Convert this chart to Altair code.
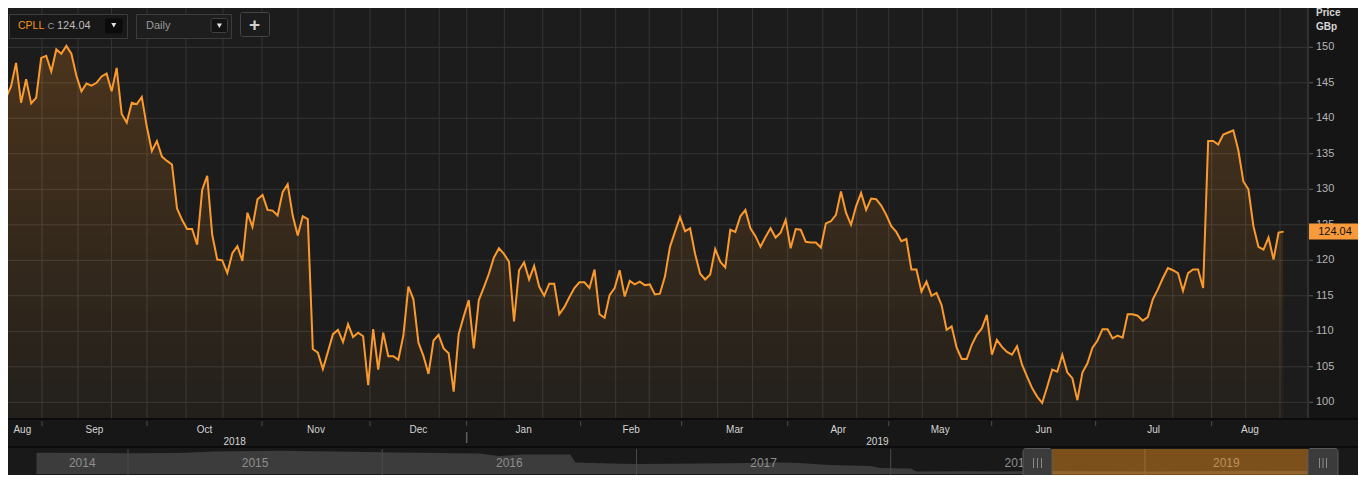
import altair as alt
import pandas as pd

# ---------------- data ----------------
ticker = "CPLL"
interval = "Daily"
currency = "GBp"

# daily closes, one per trading day (Aug 2018 -> Aug 2019)
prices = [
    142.9, 144.5, 147.8, 142.2, 145.5, 142.1, 142.9, 148.5, 148.8, 146.6, 149.7, 149.1, 150.2, 149.1, 146.0,
    143.8, 144.9, 144.6, 145.0, 145.9, 146.3, 143.8, 147.1,
    140.6, 139.4, 142.2, 142.0, 143.0, 138.8, 135.4, 136.8, 134.6, 134.0, 133.5, 127.3, 125.7, 124.4, 124.4,
    122.2, 129.9, 131.9, 123.6, 120.1, 120.0, 118.2, 121.0, 122.0, 119.9, 126.7, 124.7, 128.6, 129.2, 127.1,
    127.0, 126.3, 129.6, 130.7, 126.3, 123.5, 126.2, 125.8,
    107.5, 107.0, 104.7, 107.1, 109.6, 110.2, 108.5, 111.0, 109.2, 109.8, 109.3, 102.4, 110.3, 104.6, 109.8,
    106.5, 106.5, 106.0, 109.4, 116.3, 114.5, 108.4, 106.5, 104.0, 108.7, 109.5, 107.6, 106.9, 101.5, 109.6,
    112.1, 114.4, 107.6, 114.4, 116.2, 118.1, 120.4, 121.7, 120.9, 119.8,
    111.4, 118.6, 119.7, 117.3, 119.2, 116.3, 115.0, 116.7, 116.7, 112.4, 113.4, 114.8, 116.1, 116.9, 116.9,
    116.1, 118.7, 112.4,
    111.9, 115.1, 116.1, 118.6, 114.9, 117.1, 116.6, 117.0, 116.5, 116.6, 115.2, 115.3, 117.7, 121.9, 124.0,
    126.1, 124.1, 124.5, 120.9, 118.1, 117.3, 118.0, 121.6, 119.8, 119.0, 124.3, 124.0, 126.2, 127.1, 124.5,
    123.4, 121.9, 123.3, 124.5, 123.2, 123.9, 125.7, 121.7, 124.4, 124.3, 122.6, 122.5, 122.5, 121.8, 125.2,
    125.5, 126.4, 129.7, 126.7, 125.0, 127.6, 129.5, 127.1, 128.7, 128.6, 127.7, 126.4, 124.8, 124.0, 122.7,
    123.0,
    118.7, 118.7, 115.6, 117.0, 115.0, 115.4, 113.7, 110.2, 110.7, 107.7, 106.1, 106.1, 108.1, 109.5, 110.4,
    112.3, 106.7, 108.8, 107.8, 107.1, 106.7, 107.9, 105.3, 103.6, 102.0, 100.8, 99.9, 102.2, 104.6, 104.3,
    106.7, 104.2, 103.4, 100.3, 104.2, 105.5, 107.7, 108.7, 110.3, 110.3, 109.0, 109.4, 109.1, 112.4, 112.4,
    112.2, 111.5, 112.0, 114.5, 115.9, 117.5, 118.9, 118.6, 118.2, 115.7, 118.2, 118.7, 118.7, 116.1, 136.8,
    136.8, 136.3, 137.7, 138.0, 138.3, 135.5, 131.1, 130.0, 124.8, 121.9, 121.5, 123.2, 120.1, 123.9, 124.04,
]
price_ticks = [100, 105, 110, 115, 120, 125, 130, 135, 140, 145, 150]

# month boundaries expressed as trading-day index
month_names = ["Aug", "Sep", "Oct", "Nov", "Dec", "Jan", "Feb", "Mar", "Apr", "May", "Jun", "Jul", "Aug"]
month_starts = [7.16, 28.03, 50.89, 72.37, 91.59, 114.25, 134.33, 155.41, 175.49, 195.96, 216.64, 239.70]
range_start, range_end = -0.68, 254.9
year_names = ["2018", "2019"]
year_break = 91.59
grid_idx = [7.16, 14.31, 20.97, 28.03, 35.79, 43.14, 50.89, 58.05, 65.21, 72.37, 79.46, 86.14, 91.59,
            99.07, 106.70, 114.25, 121.21, 127.89, 134.33, 141.45, 148.41, 155.41, 162.37, 169.13,
            175.49, 182.17, 189.12, 195.96, 202.78, 209.68, 216.64, 224.11, 231.95, 239.70, 246.46, 253.28]

# navigator: long-term history (relative level)
nav_years = [2014.64, 2014.85, 2015.0, 2015.2, 2015.34, 2015.5, 2015.6, 2015.87, 2016.0, 2016.2,
             2016.38, 2016.46, 2016.55, 2016.74, 2016.76, 2016.9, 2017.01, 2017.25, 2017.45, 2017.56,
             2017.64, 2017.76, 2017.92, 2017.96, 2018.08, 2018.10, 2018.3, 2018.43, 2018.63, 2018.8,
             2019.0, 2019.2, 2019.4, 2019.64]
nav_levels = [21.3, 21.0, 20.7, 21.0, 22.5, 23.0, 23.3, 22.3, 21.7, 21.0,
              20.5, 18.0, 19.5, 19.5, 11.5, 10.5, 10.0, 10.5, 11.0, 11.5,
              11.0, 9.0, 8.0, 6.0, 5.5, 2.5, 2.8, 2.5, 3.0, 2.7,
              2.5, 2.8, 3.2, 3.0]
nav_year_labels = ["2014", "2015", "2016", "2017", "2018", "2019"]
nav_start, nav_end = 2014.64, 2019.64

# ---------------- styling / layout ----------------
FONT = "Liberation Sans"
W, H = 1350, 467
PR, PB = 1300, 410          # plot area right / bottom (px)
ORANGE = "#f7941d"
Y_DOMAIN = [89.76, 155.535]

XS = alt.Scale(domain=[0.398, 268.79], nice=False, zero=False)
YS = alt.Scale(domain=Y_DOMAIN, nice=False, zero=False)
NXS = alt.Scale(domain=[2014.528, 2019.838], nice=False, zero=False)
NYS = alt.Scale(domain=[0, 30], range=[466, 436], nice=False, zero=False)


def y_at_px(py):
    """price value sitting at pixel row py of the plot"""
    return Y_DOMAIN[1] - py / H * (Y_DOMAIN[1] - Y_DOMAIN[0])


def pxX(f="x"):
    return alt.X(f"{f}:Q", scale=None, axis=None)


def pxY(f="y"):
    return alt.Y(f"{f}:Q", scale=None, axis=None)


def deco_rect(rows, **kw):
    df = pd.DataFrame(rows)
    return alt.Chart(df).mark_rect(**kw).encode(
        x=pxX(), x2=alt.X2("x2:Q"), y=pxY(), y2=alt.Y2("y2:Q"),
        fill=alt.Fill("f:N", scale=None, legend=None),
        stroke=alt.Stroke("s:N", scale=None, legend=None))


def deco_rule(rows, **kw):
    df = pd.DataFrame(rows)
    return alt.Chart(df).mark_rule(**kw).encode(
        x=pxX(), x2=alt.X2("x2:Q"), y=pxY(), y2=alt.Y2("y2:Q"),
        color=alt.Color("c:N", scale=None, legend=None))


def deco_text(rows, **kw):
    df = pd.DataFrame(rows)
    return alt.Chart(df).mark_text(font=FONT, **kw).encode(
        x=pxX(), y=pxY(), text="t:N",
        color=alt.Color("c:N", scale=None, legend=None))


layers = []

# plot background
layers.append(deco_rect([
    dict(x=0, x2=PR, y=0, y2=PB, f="#1c1c1c", s="transparent"),
    dict(x=PR, x2=W, y=0, y2=PB, f="#151515", s="transparent"),
    dict(x=0, x2=W, y=PB, y2=439, f="#171717", s="transparent"),
    dict(x=0, x2=W, y=439, y2=H, f="#191919", s="transparent"),
]))

# grid
layers.append(alt.Chart(pd.DataFrame({"v": price_ticks})).mark_rule(color="#353535").encode(
    y=alt.Y("v:Q", scale=YS, axis=None), x=alt.value(0), x2=alt.value(PR)))
layers.append(alt.Chart(pd.DataFrame({"d": grid_idx})).mark_rule(color="#353535").encode(
    x=alt.X("d:Q", scale=XS, axis=None), y=alt.value(0), y2=alt.value(PB)))

# price area: translucent fill that fades downward (stacked thin bands) + line
price_df = pd.DataFrame({"d": list(range(len(prices))), "price": prices})
base_v = y_at_px(PB)
layers.append(alt.Chart(price_df).mark_area(color="rgb(240,150,60)", opacity=0.04).transform_calculate(
    base=f"{base_v}"
).encode(x=alt.X("d:Q", scale=XS, axis=None), y=alt.Y("price:Q", scale=YS, axis=None),
         y2=alt.Y2("base:Q")))
N_BANDS = 20
for k in range(1, N_BANDS + 1):
    vk = y_at_px(PB - k * (PB - 45) / N_BANDS)
    layers.append(alt.Chart(price_df).mark_area(color="rgb(240,150,60)", opacity=0.0105).transform_calculate(
        top=f"max(datum.price, {vk})", base=f"{vk}"
    ).encode(x=alt.X("d:Q", scale=XS, axis=None), y=alt.Y("top:Q", scale=YS, axis=None),
             y2=alt.Y2("base:Q")))
layers.append(alt.Chart(price_df).mark_line(color="#fa9a2e", strokeWidth=2).encode(
    x=alt.X("d:Q", scale=XS, axis=None), y=alt.Y("price:Q", scale=YS, axis=None)))

# plot border lines
layers.append(deco_rule([
    dict(x=PR, x2=PR, y=0, y2=PB, c="#3a3a3a"),
    dict(x=0, x2=W, y=411, y2=411, c="#080808"),
    dict(x=0, x2=W, y=439, y2=439, c="#080808"),
], strokeWidth=1.5))

# right price axis
tick_df = pd.DataFrame({"v": price_ticks, "lab": [str(v) for v in price_ticks]})
layers.append(alt.Chart(tick_df).mark_rule(color="#5c5c5c").encode(
    y=alt.Y("v:Q", scale=YS, axis=None), x=alt.value(PR + 1), x2=alt.value(PR + 5)))
layers.append(alt.Chart(tick_df).mark_text(font=FONT, fontSize=11, align="left", baseline="middle",
                                           color="#b4b4b4").encode(
    y=alt.Y("v:Q", scale=YS, axis=None), x=alt.value(PR + 8), text="lab:N"))
layers.append(deco_text([
    dict(x=PR + 8, y=5, t="Price", c="#d6d6d6"),
    dict(x=PR + 8, y=19, t=currency, c="#d6d6d6"),
], fontSize=10, fontWeight="bold", align="left", baseline="middle"))

# last price tag
last_df = pd.DataFrame({"v": [prices[-1]], "lab": [f"{prices[-1]:.2f}"]})
layers.append(alt.Chart(last_df).mark_rect(color="#f89a3c", yOffset=-8, y2Offset=8).encode(
    x=alt.value(PR + 1), x2=alt.value(PR + 53),
    y=alt.Y("v:Q", scale=YS, axis=None), y2=alt.Y2("v:Q")))
layers.append(alt.Chart(last_df).mark_text(font=FONT, fontSize=11, align="center", baseline="middle",
                                           color="#111111").encode(
    y=alt.Y("v:Q", scale=YS, axis=None), x=alt.value(PR + 27), text="lab:N"))

# time axis
bounds = [range_start] + month_starts + [range_end]
month_df = pd.DataFrame({"pos": [(bounds[i] + bounds[i + 1]) / 2 for i in range(len(month_names))],
                         "lab": month_names})
layers.append(alt.Chart(pd.DataFrame({"d": month_starts})).mark_rule(color="#4e4e4e").encode(
    x=alt.X("d:Q", scale=XS, axis=None), y=alt.value(413), y2=alt.value(418)))
layers.append(alt.Chart(pd.DataFrame({"d": [year_break]})).mark_rule(color="#5e5e5e", strokeWidth=1.5).encode(
    x=alt.X("d:Q", scale=XS, axis=None), y=alt.value(424), y2=alt.value(435)))
layers.append(alt.Chart(month_df).mark_text(font=FONT, fontSize=10, align="center", baseline="middle",
                                            color="#d4d4d4").encode(
    x=alt.X("pos:Q", scale=XS, axis=None), y=alt.value(422), text="lab:N"))
ybounds = [range_start, year_break, range_end]
year_df = pd.DataFrame({"pos": [(ybounds[i] + ybounds[i + 1]) / 2 for i in range(2)], "lab": year_names})
layers.append(alt.Chart(year_df).mark_text(font=FONT, fontSize=10, align="center", baseline="middle",
                                           color="#d4d4d4").encode(
    x=alt.X("pos:Q", scale=XS, axis=None), y=alt.value(434), text="lab:N"))

# navigator
nav_df = pd.DataFrame({"year": nav_years, "level": nav_levels})
layers.append(alt.Chart(nav_df).mark_area(color="#3c3c3c").encode(
    x=alt.X("year:Q", scale=NXS, axis=None), y=alt.Y("level:Q", scale=NYS, axis=None),
    y2=alt.value(466)))
nav_lines = pd.DataFrame({"year": [2015, 2016, 2017, 2018, 2019]})
layers.append(alt.Chart(nav_lines).mark_rule(color="#4c4c4c").encode(
    x=alt.X("year:Q", scale=NXS, axis=None), y=alt.value(441), y2=alt.value(H)))
nb = [nav_start, 2015, 2016, 2017, 2018, 2019, nav_end]
nav_lab_df = pd.DataFrame({"year": [(nb[i] + nb[i + 1]) / 2 for i in range(6)], "lab": nav_year_labels})
layers.append(alt.Chart(nav_lab_df).mark_text(font=FONT, fontSize=12, align="center", baseline="middle",
                                              color="#8e8e8e").encode(
    x=alt.X("year:Q", scale=NXS, axis=None), y=alt.value(455), text="lab:N"))
layers.append(alt.Chart(pd.DataFrame({"a": [0]})).mark_rect(color=ORANGE, opacity=0.45).encode(
    x=alt.value(1044), x2=alt.value(PR), y=alt.value(441), y2=alt.value(470)))
layers.append(deco_rect([
    dict(x=1015, x2=1044, y=440.5, y2=470, f="#3b3b3b", s="#5a5a5a"),
    dict(x=1300, x2=1330, y=440.5, y2=470, f="#3b3b3b", s="#5a5a5a"),
], cornerRadius=3, strokeWidth=1))
layers.append(deco_rule([
    dict(x=xx, x2=xx, y=450, y2=460, c="#8a8a8a")
    for xx in [1025.5, 1029.5, 1033.5, 1311.5, 1315, 1318.5]
]))

# top-left controls
layers.append(deco_rect([
    dict(x=1.5, x2=119.5, y=6.5, y2=30.5, f="#181818", s="#3c3c3c"),
    dict(x=128.5, x2=223.5, y=6.5, y2=30.5, f="#1e1e1e", s="#3c3c3c"),
], strokeWidth=1))
layers.append(deco_rect([
    dict(x=97, x2=114.5, y=10.5, y2=25.5, f="#0b0b0b", s="transparent"),
    dict(x=203, x2=219.5, y=10.5, y2=24.5, f="#131313", s="#404040"),
    dict(x=232.5, x2=261.5, y=4.5, y2=28.5, f="#1c1c1c", s="#444444"),
], cornerRadius=2, strokeWidth=1))
layers.append(alt.Chart(pd.DataFrame({"x": [105.8, 211.4], "y": [17.2, 17.7]})).mark_point(
    shape="triangle-down", filled=True, size=26, color="#e2e2e2", opacity=1).encode(x=pxX(), y=pxY()))
layers.append(deco_text([dict(x=10, y=18, t=ticker, c=ORANGE)], fontSize=10.5, align="left",
                        baseline="middle"))
layers.append(deco_text([dict(x=39.5, y=18, t="C", c="#9a9a9a")], fontSize=9.5, align="left",
                        baseline="middle"))
layers.append(deco_text([
    dict(x=49, y=18, t="124.04", c="#bdbdbd"),
    dict(x=138, y=17.5, t=interval, c="#9c9c9c"),
], fontSize=11, align="left", baseline="middle"))
layers.append(deco_text([dict(x=246.5, y=16.5, t="+", c="#d0d0d0")], fontSize=19, fontWeight="bold",
                        align="center", baseline="middle"))

chart = alt.layer(*layers).resolve_scale(
    x="independent", y="independent"
).properties(
    width=W, height=H, padding=0, background="#151515",
    autosize=alt.AutoSizeParams(type="none"),
).configure_view(stroke=None)

chart.save("out.html", embed_options={"renderer": "svg", "actions": False})
